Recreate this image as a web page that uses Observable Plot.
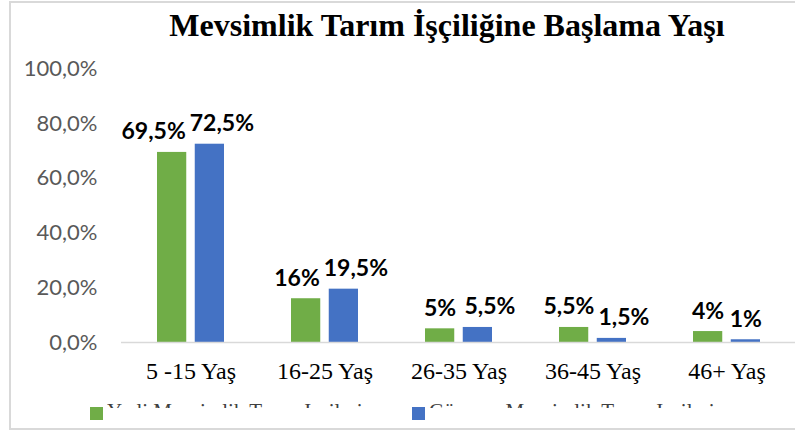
<!DOCTYPE html>
<html>
<head>
<meta charset="utf-8">
<script src="https://cdn.jsdelivr.net/npm/d3@7"></script>
<script src="https://cdn.jsdelivr.net/npm/@observablehq/plot@0.6"></script>
<style>
  html, body { margin: 0; padding: 0; background: #fff; }
  body { width: 795px; height: 431px; overflow: hidden; position: relative; }
  #frame { position: absolute; left: 9px; top: 1px; width: 800px; height: 425px; border: 2px solid #d9d9d9; border-right: none; box-sizing: content-box; }
  #title { position: absolute; left: 0; width: 894px; top: 9px; text-align: center; font-family: "Liberation Serif", "Times New Roman", serif; font-weight: bold; font-size: 32px; line-height: 1; color: #000; white-space: nowrap; }
  #chart { position: absolute; left: 0; top: 0; }
  .legend-swatch { position: absolute; top: 407px; width: 13px; height: 13px; }
  .legend-clip { position: absolute; top: 403px; height: 5px; overflow: hidden; }
  .legend-clip span { position: relative; top: -2px; display: block; font-family: "Liberation Serif", "Times New Roman", serif; font-size: 21px; line-height: 1; color: #404040; white-space: nowrap; }
</style>
</head>
<body>
<div id="frame"></div>
<div id="title">Mevsimlik Tarım İşçiliğine Başlama Yaşı</div>
<div id="chart"></div>
<div id="legend"></div>
<script>
const categories = ["5 -15 Yaş", "16-25 Yaş", "26-35 Yaş", "36-45 Yaş", "46+ Yaş"];
const seriesNames = ["Yerli Mevsimlik Tarım İşçileri", "Göçmen Mevsimlik Tarım İşçileri"];
const yerli = [69.5, 16, 5, 5.5, 4];
const gocmen = [72.5, 19.5, 5.5, 1.5, 1];
const yTicks = [0, 20, 40, 60, 80, 100];
const colors = ["#70ad47", "#4472c4"];

const labelFont = "bold 23px Lato";
const fmt = v => (Number.isInteger(v) ? String(v) : v.toFixed(1).replace(".", ",")) + "%";

// text width measurement, used to push apart labels that would collide
const ctx = document.createElement("canvas").getContext("2d");
ctx.font = labelFont;
const tw = s => ctx.measureText(s).width;

const bandW = 67.5;
const barW = 29.75;
const inset = bandW - barW;
const half = (bandW - barW) / 2;
const pxPerUnit = (431 - 68.5 - 89) / 100;

const rowsY = [], rowsG = [];
categories.forEach((c, i) => {
  const ly = fmt(yerli[i]), lg = fmt(gocmen[i]);
  let dxY = -half, dxG = half + (Math.abs(yerli[i] - gocmen[i]) * pxPerUnit < 20 || gocmen[i] > 2 ? 12 : 0);
  if (gocmen[i] < 1.2) dxG = half;
  const gap = (dxG - tw(lg) / 2) - (dxY + tw(ly) / 2);
  if (Math.abs(yerli[i] - gocmen[i]) * pxPerUnit < 22 && gap < 4) dxY -= (4 - gap);
  rowsY.push({cat: c, value: yerli[i], label: ly, dx: dxY});
  rowsG.push({cat: c, value: gocmen[i], label: lg, dx: dxG});
});

const labelMarks = (rows) => rows.map(r => Plot.text([r], {x: "cat", y: "value", text: "label", dx: r.dx, dy: -13,
  lineAnchor: "bottom", fontSize: 23, fontWeight: "bold", fontFamily: "Lato, 'Open Sans', sans-serif", fill: "#000"}));

const chart = Plot.plot({
  width: 795,
  height: 431,
  marginLeft: 121,
  marginRight: 0,
  marginTop: 68.5,
  marginBottom: 89,
  style: {background: "transparent", overflow: "visible"},
  x: {domain: categories, paddingInner: 0.5, paddingOuter: 0.25},
  y: {domain: [0, 100]},
  marks: [
    Plot.axisY({ticks: yTicks, tickSize: 0, tickPadding: 24, label: null,
      tickFormat: d => d.toFixed(1).replace(".", ",") + "%",
      fontSize: 22, fontFamily: "Lato, 'Open Sans', sans-serif", fill: "#595959"}),
    Plot.axisX({tickSize: 0, tickPadding: 19, label: null,
      fontSize: 24, fontFamily: "'Liberation Serif', 'Times New Roman', serif", fill: "#000"}),
    Plot.barY(rowsY, {x: "cat", y: "value", fill: colors[0], insetRight: inset}),
    Plot.barY(rowsG, {x: "cat", y: "value", fill: colors[1], insetLeft: inset}),
    Plot.ruleY([0], {stroke: "#d9d9d9", strokeWidth: 1.5}),
    ...labelMarks(rowsY),
    ...labelMarks(rowsG)
  ]
});
document.getElementById("chart").appendChild(chart);

const legend = document.getElementById("legend");
const legendX = [90, 412];
seriesNames.forEach((name, i) => {
  const sw = document.createElement("div");
  sw.className = "legend-swatch";
  sw.style.left = legendX[i] + "px";
  sw.style.background = colors[i];
  legend.appendChild(sw);
  const clip = document.createElement("div");
  clip.className = "legend-clip";
  clip.style.left = (legendX[i] + 17) + "px";
  const sp = document.createElement("span");
  sp.textContent = name;
  clip.appendChild(sp);
  legend.appendChild(clip);
});
</script>
</body>
</html>
